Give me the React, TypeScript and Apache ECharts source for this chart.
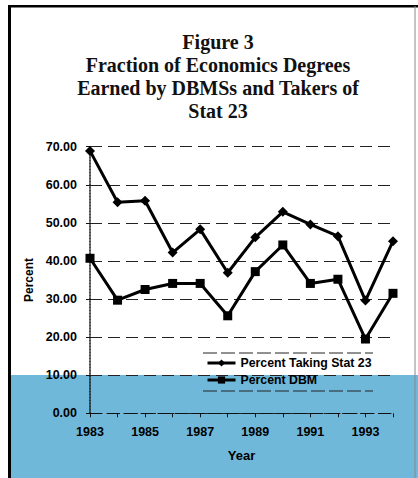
import React, { useEffect, useRef } from "react";
import * as echarts from "echarts";

const years = ["1983", "1984", "1985", "1986", "1987", "1988", "1989", "1990", "1991", "1992", "1993", "1994"];
const stat23 = [68.9, 55.4, 55.8, 42.2, 48.3, 36.9, 46.2, 52.9, 49.6, 46.5, 29.6, 45.2];
const dbm = [40.7, 29.7, 32.5, 34.1, 34.1, 25.6, 37.2, 44.2, 34.1, 35.2, 19.5, 31.5];
const titleText = "Figure 3\nFraction of Economics Degrees\nEarned by DBMSs and Takers of\nStat 23";

export default function App() {
  const ref = useRef<HTMLDivElement>(null);
  useEffect(() => {
    if (!ref.current) return;
    const chart = echarts.init(ref.current, null, { renderer: "svg" });
    const sans = "Liberation Sans";
    chart.setOption({
      animation: false,
      backgroundColor: "#fff",
      title: {
        text: titleText,
        left: 213,
        top: 25,
        textAlign: "center",
        textStyle: {
          fontFamily: "Liberation Serif",
          fontWeight: "bold",
          fontSize: 20,
          lineHeight: 23,
          color: "#111",
        },
      },
      graphic: [
        { type: "rect", z: -10, shape: { x: 8, y: 375, width: 410, height: 103 }, style: { fill: "#6fb8da" } },
        { type: "rect", z: 10, shape: { x: 8, y: 5, width: 3, height: 473 }, style: { fill: "#000" } },
        { type: "rect", z: 10, shape: { x: 8, y: 5, width: 410, height: 2.5 }, style: { fill: "#000" } },
        { type: "line", z: 10, shape: { x1: 415, y1: 6, x2: 415, y2: 478 }, style: { stroke: "#888", lineWidth: 1 } },
        { type: "line", z: 5, shape: { x1: 203, y1: 353, x2: 373, y2: 353 }, style: { stroke: "#222", lineWidth: 1, lineDash: [14, 4] } },
        { type: "line", z: 5, shape: { x1: 203, y1: 391, x2: 373, y2: 391 }, style: { stroke: "#222", lineWidth: 1, lineDash: [14, 4] } },
      ],
      grid: { left: 90, right: 25, top: 146.7, bottom: 64.7, containLabel: false },
      legend: {
        orient: "vertical",
        left: 206,
        top: 357,
        padding: 0,
        itemGap: 5,
        itemWidth: 28,
        itemHeight: 9,
        lineStyle: { width: 3, color: "#000" },
        textStyle: { fontFamily: sans, fontWeight: "bold", fontSize: 12.3, color: "#000" },
        data: ["Percent Taking Stat 23", "Percent DBM"],
      },
      xAxis: {
        type: "category",
        data: years,
        boundaryGap: false,
        name: "Year",
        nameLocation: "middle",
        nameGap: 36,
        nameTextStyle: { fontFamily: sans, fontWeight: "bold", fontSize: 13, color: "#000" },
        axisLine: { show: true, lineStyle: { color: "#111", width: 1, type: [12, 5] } },
        axisTick: { show: true, interval: 0, length: 4, lineStyle: { color: "#111" } },
        axisLabel: { interval: 1, margin: 12, fontFamily: sans, fontWeight: "bold", fontSize: 12.5, color: "#000" },
        splitLine: { show: false },
      },
      yAxis: {
        type: "value",
        min: 0,
        max: 70,
        interval: 10,
        name: "Percent",
        nameLocation: "middle",
        nameRotate: 90,
        nameGap: 48,
        nameTextStyle: { fontFamily: sans, fontWeight: "bold", fontSize: 12, color: "#000" },
        axisLine: { show: true, lineStyle: { color: "#111", width: 1.5, type: "dotted" } },
        axisTick: { show: true, length: 4, lineStyle: { color: "#111" } },
        axisLabel: {
          margin: 13,
          fontFamily: sans,
          fontWeight: "bold",
          fontSize: 12.5,
          color: "#000",
          formatter: (v: number) => v.toFixed(2),
        },
        splitLine: { show: true, lineStyle: { color: "#222", width: 1, type: [12, 6] } },
      },
      series: [
        {
          name: "Percent Taking Stat 23",
          type: "line",
          data: stat23,
          symbol: "diamond",
          symbolSize: 10,
          lineStyle: { color: "#000", width: 3 },
          itemStyle: { color: "#000" },
          z: 3,
        },
        {
          name: "Percent DBM",
          type: "line",
          data: dbm,
          symbol: "rect",
          symbolSize: 9,
          lineStyle: { color: "#000", width: 3 },
          itemStyle: { color: "#000" },
          z: 3,
        },
      ],
    });
    return () => chart.dispose();
  }, []);
  return <div ref={ref} style={{ position: "absolute", left: 0, top: 0, width: 418, height: 478 }} />;
}
